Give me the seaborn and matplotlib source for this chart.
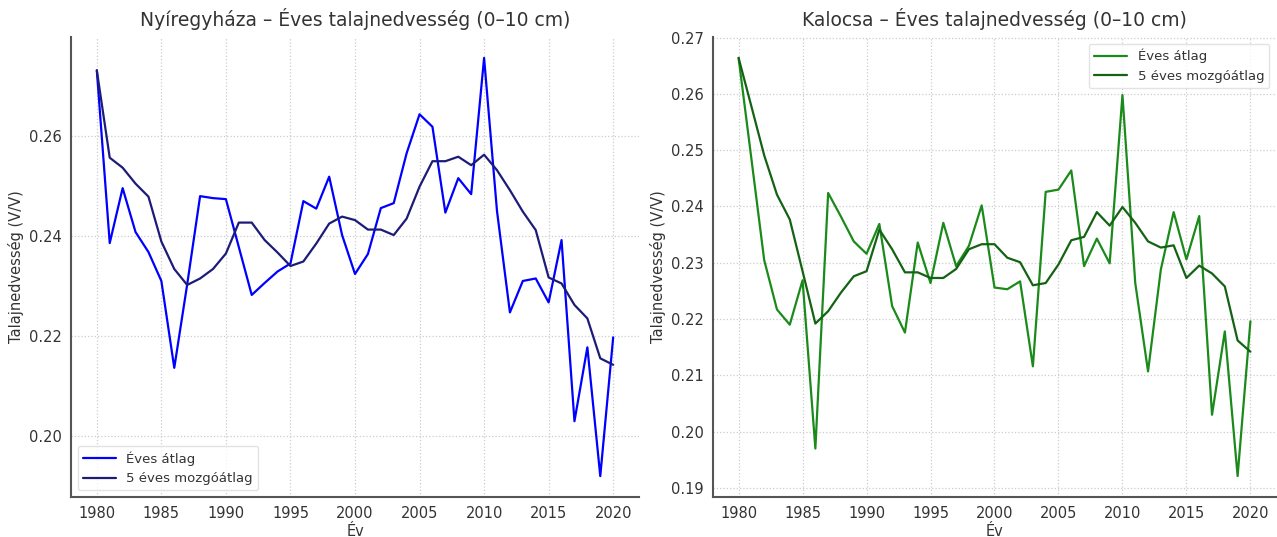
import numpy as np
import pandas as pd
import matplotlib
matplotlib.use("Agg")
import matplotlib.pyplot as plt
import seaborn as sns

years = list(range(1980, 2021))

# Nyíregyháza
nyi_annual = [0.2732, 0.2386, 0.2496, 0.2408, 0.2368, 0.2310, 0.2136, 0.2303, 0.2480, 0.2476,
              0.2474, 0.2378, 0.2282, 0.2306, 0.2329, 0.2345, 0.2470, 0.2455, 0.2519, 0.2402,
              0.2324, 0.2364, 0.2456, 0.2466, 0.2566, 0.2644, 0.2619, 0.2447, 0.2516, 0.2484,
              0.2757, 0.2450, 0.2247, 0.2310, 0.2315, 0.2267, 0.2392, 0.2029, 0.2177, 0.1919,
              0.2197]
nyi_ma = [0.2732, 0.2557, 0.2537, 0.2505, 0.2479, 0.2389, 0.2334, 0.2302, 0.2315, 0.2334,
          0.2365, 0.2427, 0.2427, 0.2392, 0.2367, 0.2340, 0.2349, 0.2385, 0.2425, 0.2439,
          0.2432, 0.2413, 0.2413, 0.2402, 0.2435, 0.2499, 0.2550, 0.2550, 0.2559, 0.2542,
          0.2563, 0.2532, 0.2492, 0.2449, 0.2412, 0.2317, 0.2305, 0.2262, 0.2235, 0.2155,
          0.2142]

# Kalocsa
kal_annual = [0.2664, 0.2485, 0.2305, 0.2217, 0.2190, 0.2269, 0.1970, 0.2424, 0.2382, 0.2338,
              0.2316, 0.2369, 0.2223, 0.2176, 0.2336, 0.2264, 0.2371, 0.2294, 0.2330, 0.2402,
              0.2256, 0.2253, 0.2267, 0.2116, 0.2426, 0.2430, 0.2464, 0.2294, 0.2343, 0.2299,
              0.2598, 0.2264, 0.2107, 0.2288, 0.2390, 0.2306, 0.2383, 0.2030, 0.2178, 0.1921,
              0.2196]
kal_ma = [0.2664, 0.2578, 0.2491, 0.2421, 0.2377, 0.2285, 0.2192, 0.2214, 0.2247, 0.2276,
          0.2285, 0.2359, 0.2324, 0.2283, 0.2283, 0.2273, 0.2273, 0.2289, 0.2324, 0.2333,
          0.2333, 0.2309, 0.2301, 0.2260, 0.2264, 0.2297, 0.2340, 0.2346, 0.2390, 0.2366,
          0.2399, 0.2371, 0.2338, 0.2327, 0.2331, 0.2273, 0.2295, 0.2281, 0.2258, 0.2162,
          0.2142]

sns.set_style("white")
plt.rcParams['font.family'] = ['DejaVu Sans']
plt.rcParams['text.color'] = '#333333'
plt.rcParams['axes.labelcolor'] = '#333333'
plt.rcParams['xtick.color'] = '#333333'
plt.rcParams['ytick.color'] = '#333333'

fig = plt.figure(figsize=(12.77, 5.37), dpi=100)
ax1 = fig.add_axes([71 / 1277, 40 / 537, 568 / 1277, 460 / 537])
ax2 = fig.add_axes([713 / 1277, 40 / 537, 563 / 1277, 460 / 537])

panels = [
    (ax1, "Nyíregyháza", nyi_annual, nyi_ma, "blue", "#1c1c78", "lower left"),
    (ax2, "Kalocsa", kal_annual, kal_ma, "#1a8a1a", "#136313", "upper right"),
]

for ax, city, annual, ma, c1, c2, loc in panels:
    df = pd.DataFrame({"Év": years, "annual": annual, "ma": ma})
    sns.lineplot(data=df, x="Év", y="annual", ax=ax, color=c1, lw=1.6, label="Éves átlag")
    sns.lineplot(data=df, x="Év", y="ma", ax=ax, color=c2, lw=1.6, label="5 éves mozgóátlag")
    ax.set_title(f"{city} – Éves talajnedvesség (0–10 cm)", fontsize=13.5, pad=8)
    ax.set_xlabel("Év", fontsize=10.5, labelpad=2)
    ax.set_ylabel("Talajnedvesség (V/V)", fontsize=10.5)
    ax.set_xticks(range(1980, 2021, 5))
    ax.tick_params(labelsize=10.5, direction='out', length=3, width=1, colors='#444444',
                   labelcolor='#333333')
    ax.grid(True, linestyle=':', color='#cccccc', linewidth=0.9)
    for side in ['top', 'right']:
        ax.spines[side].set_visible(False)
    for side in ['left', 'bottom']:
        ax.spines[side].set_color('#555555')
        ax.spines[side].set_linewidth(1.5)
    ax.legend(loc=loc, fontsize=9.5, frameon=True, edgecolor='#dddddd', handlelength=2.5)

fig.savefig("out.png", dpi=100, facecolor='white')
